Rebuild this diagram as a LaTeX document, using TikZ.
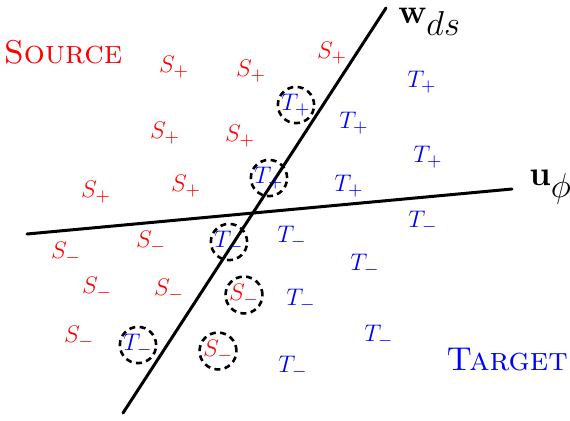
\documentclass[tikz,border=0pt]{standalone}
\begin{document}
\begin{tikzpicture}[x=0.5pt,y=-0.5pt,
  lab/.style={inner sep=0pt,font=\fontsize{13}{15}\selectfont},
  sp/.style={lab,text=red},
  tp/.style={lab,text=blue},
  ring/.style={draw=black,circle,line width=1.3pt,dash pattern=on 3pt off 2.2pt,inner sep=0pt,minimum size=17pt},
  axis/.style={line width=1.5pt,line cap=round},
  vlab/.style={inner sep=0pt,anchor=west,font=\fontsize{16}{19}\selectfont},
  title/.style={inner sep=0pt,font=\fontsize{16.5}{20}\selectfont\scshape}]
\useasboundingbox (0,0) rectangle (570,420);
% axes
\coordinate (wA) at (123,413);
\coordinate (wB) at (386,8);
\coordinate (uA) at (27,234);
\coordinate (uB) at (512,189);
\draw[axis] (wA) -- (wB);
\draw[axis] (uA) -- (uB);
\node[vlab] (wlab) at (398,22) {$\mathbf{w}_{\textstyle ds}$};
\node[vlab] (ulab) at (529,187) {$\mathbf{u}_{\textstyle\phi}$};
% titles
\node[title,text=red] (src) at (63,52) {Source};
\node[title,text=blue] (tgt) at (507,360) {Target};
% S+
\node[sp] (sp1) at (174,67) {$S_+$};
\node[sp] (sp2) at (251,71) {$S_+$};
\node[sp] (sp3) at (332,53) {$S_+$};
\node[sp] (sp4) at (165,133) {$S_+$};
\node[sp] (sp5) at (240,136) {$S_+$};
\node[sp] (sp6) at (96,192) {$S_+$};
\node[sp] (sp7) at (186,186) {$S_+$};
% T+
\node[tp] (tp1) at (422,82) {$T_+$};
\node[tp] (tp2) at (354,123) {$T_+$};
\node[tp] (tp3) at (428,157) {$T_+$};
\node[tp] (tp4) at (349,186) {$T_+$};
\node[tp,ring] (tp5) at (296,105) {$T_+$};
\node[tp,ring] (tp6) at (269,178) {$T_+$};
% S-
\node[sp] (sm1) at (66,253) {$S_-$};
\node[sp] (sm2) at (151,242) {$S_-$};
\node[sp] (sm3) at (97,288) {$S_-$};
\node[sp] (sm4) at (169,290) {$S_-$};
\node[sp] (sm5) at (79,337) {$S_-$};
\node[sp,ring] (sm6) at (244,295) {$S_-$};
\node[sp,ring] (sm7) at (218,351) {$S_-$};
% T-
\node[tp,ring] (tm1) at (229,242) {$T_-$};
\node[tp,ring] (tm2) at (138,345) {$T_-$};
\node[tp] (tm3) at (292,237) {$T_-$};
\node[tp] (tm4) at (423,222) {$T_-$};
\node[tp] (tm5) at (365,265) {$T_-$};
\node[tp] (tm6) at (301,300) {$T_-$};
\node[tp] (tm7) at (379,336) {$T_-$};
\node[tp] (tm8) at (293,367) {$T_-$};
\end{tikzpicture}
\end{document}
